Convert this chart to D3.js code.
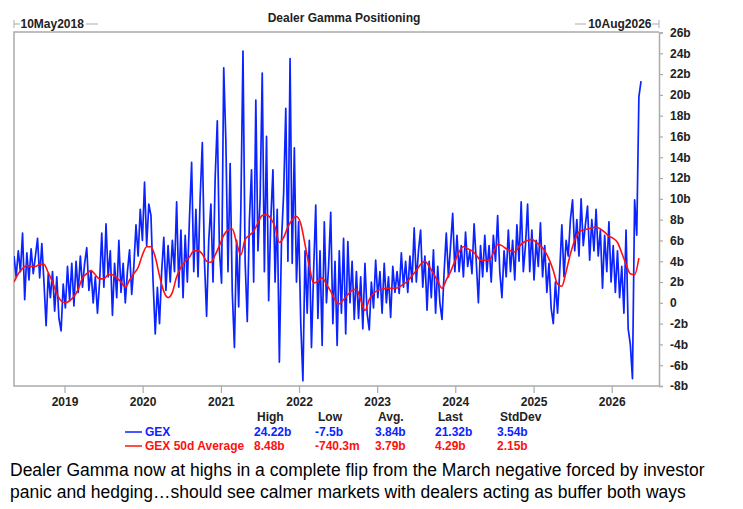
<!DOCTYPE html>
<html>
<head>
<meta charset="utf-8">
<script src="https://cdn.jsdelivr.net/npm/d3@7"></script>
<style>
  body { margin: 0; background: #fff; }
  svg { font-family: Arial, "Liberation Sans", sans-serif; }
</style>
</head>
<body>
<svg id="chart" width="743" height="509"></svg>
<script>
// GEX, one reading every 10 days from 10 May 2018 (values in $b)
const gexStart = "2018-05-10";
const gexStepDays = 10;
const gex = [
  4.5, 2.5, 5.0, 3.0, 6.7, 0.3, 4.8, 2.2, 5.2, 2.8, 4.5, 6.2, 2.4, 5.7, 2.0,
  -2.2, 2.8, 0.5, 3.0, -0.8, 2.5, -1.5, -2.7, 1.8, -0.5, 3.5, 0.2, 3.8, -0.3,
  4.0, 1.0, 4.5, 1.5, 3.8, 5.3, 1.2, 3.1, 0.0, 2.5, -1.0, 2.0,
  6.7, 1.5, 7.6, 2.5, 5.0, -1.2, 3.8, 0.5, 6.0, 1.0, 3.8, 0.0, 3.0, 5.1, 0.8, 3.5,
  7.5, 4.5, 9.0, 6.0, 11.6, 5.5, 9.5, 8.4, 2.0, -3.0, 1.5, -2.0, 3.0, 6.3,
  1.2, 5.5, 2.0, 6.0, 3.0, 9.7, 1.5, 7.0, 0.5, 6.5, 2.0, 8.2, 13.5, 3.0,
  9.0, 2.5, 10.2, 15.4, 4.0, -1.3, 6.0, 9.5, 2.0, 12.0, 17.5, 5.0, 1.9, 22.6,
  15.6, 3.0, 13.4, 1.0, -4.3, 6.0, -0.4, 9.0, 24.22, 4.0,
  -1.8, 8.0, 12.8, 2.0, 19.5, 5.0, 10.0, 22.1, 3.0, 16.0, 0.2, 8.0, 12.8, 2.0,
  9.0, -5.7, 6.0, 10.5, 18.7, 4.0, 23.5, 3.8, 14.9,
  2.0, 7.8, -2.0, -7.5, 5.0, -1.0, 6.0, -4.3, 3.0, 9.4, -1.5,
  5.0, -4.1, 7.8, 0.0, 3.5, 8.7, -2.0, 4.0, -4.1, 5.0, -1.0, 6.2, -3.0,
  5.9, 0.0, 4.0, -1.6, 3.0, -1.5, 2.5, -2.5, 3.8, -1.0, -2.6, 2.0,
  -0.5, 4.1, 0.5, 3.0, -1.0, 3.8, 0.0, 2.5, -1.4, 3.5, 1.0, 3.0,
  0.9, 4.8, 1.5, 4.0, 1.0, 4.5, 2.0, 7.2, 2.0, 5.0, 7.0, 1.5, 4.5, -0.7, 4.0,
  0.5, 5.1, -1.0, 3.5, 0.0, -1.6, 3.0, 6.7, 2.5, 5.5, 8.6, 3.0,
  6.5, 3.0, 5.5, 2.5, 6.8, 3.5, 5.0, 2.8, 7.6, 4.0, 0.0, 5.5, 2.5, 6.5,
  3.0, 5.5, 2.0, 6.5, 4.0, 8.4, 3.0, 0.5, 5.0,
  2.5, 7.0, 3.0, 6.0, 2.2, 7.5, 4.0, 9.7, 3.0, 5.5, 9.5,
  3.0, 7.0, 2.2, 6.0, 3.5, 7.7, 2.5, 5.5, 1.0, 3.8, -0.5, -2.0, 2.0, -1.0,
  3.0, 7.5, 2.5, 6.0, 4.5, 8.0,
  9.9, 5.0, 8.0, 4.5, 10.0, 5.5, 7.5, 9.3, 4.1, 8.0, 5.0, 9.0, 4.5, 7.0, 1.4,
  6.5, 3.0, 7.8, 2.0, 5.5, 1.0, 5.0, 0.5,
  3.5, -1.0, 7.0, -2.5, -4.0, -7.3, 9.9, 6.5, 19.8, 21.32
];

// GEX 50d average, one reading every 20 days from 10 May 2018
const avgStart = "2018-05-10";
const avgStepDays = 20;
const gexAvg = [
  2.0, 2.8, 3.3, 3.6, 3.5, 3.5, 3.7, 3.7, 2.9, 2.0,
  0.9, 0.2, 0.0, 0.2, 0.6, 1.3, 2.4, 2.8, 3.1, 2.7,
  2.3, 2.3, 2.7, 2.7, 2.4, 2.0, 1.5, 2.2, 2.8, 3.4,
  4.6, 5.4, 5.4, 4.4, 2.6, 1.1, 0.5, 1.0, 2.5, 3.4,
  4.0, 4.4, 5.0, 5.0, 4.7, 4.0, 3.9, 4.6, 5.5, 6.5,
  7.0, 7.1, 5.8, 4.6, 6.1, 6.5, 6.9, 7.7, 8.4, 8.48,
  8.1, 7.3, 5.8, 6.3, 7.3, 8.0, 8.3, 7.6, 5.6, 3.5,
  1.9, 2.1, 2.4, 1.8, 1.1, 0.3, -0.1, 0.3, 0.8, 1.2,
  1.3, 0.3, -0.74, 0.3, 0.9, 1.2, 1.3, 1.4, 1.4, 1.4,
  1.5, 1.8, 2.1, 2.6, 3.1, 3.7, 4.0, 3.5, 2.8, 2.1,
  1.4, 2.2, 3.0, 4.0, 4.9, 5.4, 5.2, 5.0, 4.6, 4.1,
  4.1, 4.1, 4.8, 5.6, 5.5, 5.2, 5.0, 4.9, 5.4, 5.8,
  6.0, 6.1, 5.8, 5.5, 5.0, 4.2, 3.1, 1.8, 1.6, 3.0,
  4.7, 6.0, 6.8, 7.0, 7.1, 7.2, 7.3, 7.1, 6.8, 6.4,
  6.2, 5.8, 4.8, 3.7, 2.8, 2.7, 4.29
];

const yearTicks = [2019, 2020, 2021, 2022, 2023, 2024, 2025, 2026];
const valueTicks = [-8, -6, -4, -2, 0, 2, 4, 6, 8, 10, 12, 14, 16, 18, 20, 22, 24, 26];

const statHeads = ["High", "Low", "Avg.", "Last", "StdDev"];
const seriesNames = ["GEX", "GEX 50d Average"];
const gexStats = ["24.22b", "-7.5b", "3.84b", "21.32b", "3.54b"];
const avgStats = ["8.48b", "-740.3m", "3.79b", "4.29b", "2.15b"];

const captionLines = [
  "Dealer Gamma now at highs in a complete flip from the March negative forced by investor",
  "panic and hedging\u2026should see calmer markets with dealers acting as buffer both ways"
];

const BLUE = "#0a23ff";
const RED = "#ff1010";
const FRAME = "#ababab";
const INK = "#222";

const svg = d3.select("#chart");
const plotL = 14, plotR = 659, plotT = 32, plotB = 386;

const parse = d3.timeParse("%Y-%m-%d");
const x = d3.scaleTime()
  .domain([parse("2018-05-10"), parse("2026-08-10")])
  .range([plotL, plotR]);
const y = d3.scaleLinear().domain([-8, 26]).range([plotB, plotT + 0.5]);

const gexPts = gex.map((v, i) => ({ d: d3.timeDay.offset(parse(gexStart), i * gexStepDays), v: v }));
const avgPts = gexAvg.map((v, i) => ({ d: d3.timeDay.offset(parse(avgStart), i * avgStepDays), v: v }));

// title
svg.append("text")
  .attr("x", 344).attr("y", 22)
  .attr("text-anchor", "middle")
  .attr("font-size", 12).attr("font-weight", "bold").attr("fill", INK)
  .text("Dealer Gamma Positioning");

// date range markers on top
function rangeLabel(txt, x0, x1, tx, anchorLeft) {
  const g = svg.append("g").attr("stroke", FRAME).attr("stroke-width", 1);
  g.append("line").attr("x1", x0).attr("x2", x0).attr("y1", 20).attr("y2", 28);
  g.append("line").attr("x1", x0).attr("x2", x1).attr("y1", 24).attr("y2", 24);
  svg.append("text")
    .attr("x", tx).attr("y", 28)
    .attr("text-anchor", anchorLeft ? "start" : "end")
    .attr("font-size", 12).attr("font-weight", "bold").attr("fill", INK)
    .text(txt);
}
rangeLabel("10May2018", plotL, 20, 20.5, true);
svg.append("line").attr("x1", 86).attr("x2", 98).attr("y1", 24).attr("y2", 24).attr("stroke", FRAME);
rangeLabel("10Aug2026", plotR, 652, 651.5, false);
svg.append("line").attr("x1", 575).attr("x2", 586).attr("y1", 24).attr("y2", 24).attr("stroke", FRAME);

// frame
svg.append("path")
  .attr("d", `M${plotR},${plotT}H${plotL}V${plotB}H${plotR}`)
  .attr("fill", "none").attr("stroke", FRAME).attr("stroke-width", 1.5);

// axes
const xAxis = svg.append("g")
  .attr("transform", `translate(0,${plotB})`)
  .call(d3.axisBottom(x)
    .tickValues(yearTicks.map(yr => new Date(yr, 0, 1)))
    .tickFormat(d3.timeFormat("%Y"))
    .tickSize(7).tickPadding(4));
xAxis.select(".domain").remove();
xAxis.selectAll("line").attr("stroke", FRAME).attr("stroke-width", 1.2);
xAxis.selectAll("text").attr("font-size", 12).attr("font-weight", "bold")
  .attr("fill", INK).attr("font-family", "Arial, 'Liberation Sans', sans-serif");

const yAxis = svg.append("g")
  .attr("transform", `translate(${plotR},0)`)
  .call(d3.axisRight(y)
    .tickValues(valueTicks)
    .tickFormat(v => v === 0 ? "0" : v + "b")
    .tickSize(4).tickPadding(7));
yAxis.select(".domain").attr("stroke", FRAME).attr("stroke-width", 1.5);
yAxis.selectAll("line").attr("stroke", FRAME).attr("stroke-width", 1.2);
yAxis.selectAll("text").attr("font-size", 12).attr("font-weight", "bold")
  .attr("fill", INK).attr("font-family", "Arial, 'Liberation Sans', sans-serif");

// series
svg.append("clipPath").attr("id", "plot")
  .append("rect").attr("x", plotL).attr("y", plotT).attr("width", plotR - plotL).attr("height", plotB - plotT);

const line = d3.line().x(p => x(p.d)).y(p => y(p.v));

svg.append("path")
  .datum(gexPts)
  .attr("clip-path", "url(#plot)")
  .attr("d", line)
  .attr("fill", "none").attr("stroke", BLUE).attr("stroke-width", 1.7)
  .attr("stroke-linejoin", "round");

svg.append("path")
  .datum(avgPts)
  .attr("clip-path", "url(#plot)")
  .attr("d", d3.line().curve(d3.curveMonotoneX).x(p => x(p.d)).y(p => y(p.v)))
  .attr("fill", "none").attr("stroke", RED).attr("stroke-width", 1.6)
  .attr("stroke-linejoin", "round");

// legend / stats table
const colX = [254, 315, 375, 435, 497];
const table = svg.append("g").attr("font-size", 12).attr("font-weight", "bold");
table.selectAll(".head").data(statHeads).enter().append("text")
  .attr("x", (d, i) => colX[i] + 3).attr("y", 421)
  .attr("fill", INK).text(d => d);

const rows = [
  { name: seriesNames[0], color: BLUE, stats: gexStats, y: 436 },
  { name: seriesNames[1], color: RED, stats: avgStats, y: 450 }
];
rows.forEach(r => {
  table.append("line")
    .attr("x1", 125).attr("x2", 142).attr("y1", r.y - 4).attr("y2", r.y - 4)
    .attr("stroke", r.color).attr("stroke-width", 1.5);
  table.append("text").attr("x", 145).attr("y", r.y).attr("fill", r.color).text(r.name);
  r.stats.forEach((s, i) => {
    table.append("text").attr("x", colX[i]).attr("y", r.y).attr("fill", r.color).text(s);
  });
});

// caption
svg.selectAll(".caption").data(captionLines).enter().append("text")
  .attr("x", 10).attr("y", (d, i) => 476 + i * 22)
  .attr("font-size", 17.5).attr("fill", "#000")
  .text(d => d);
</script>
</body>
</html>
